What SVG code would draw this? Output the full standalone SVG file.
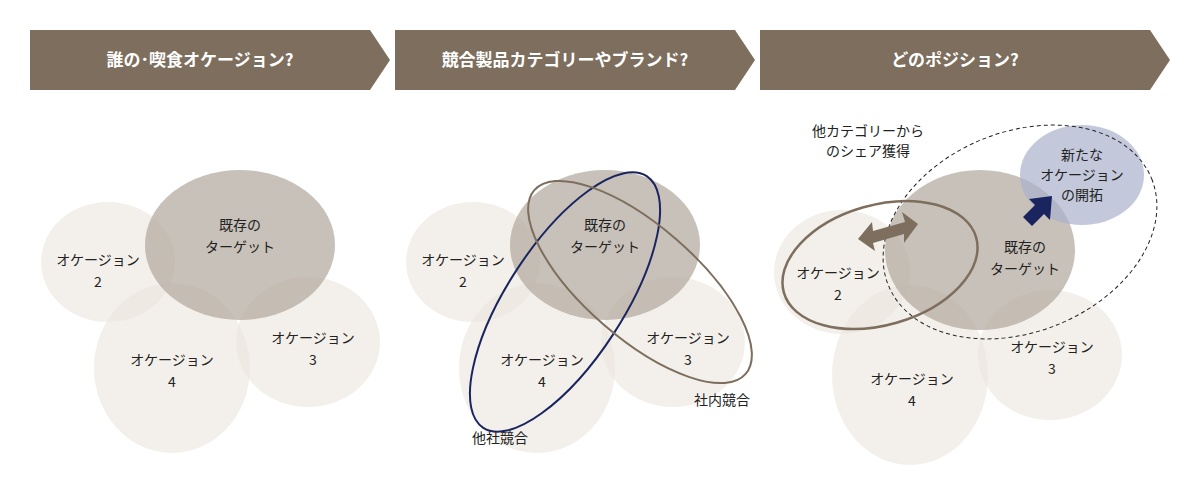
<svg xmlns="http://www.w3.org/2000/svg" width="1200" height="500" viewBox="0 0 1200 500">
<style>
text{font-family:"Noto Sans CJK JP","Noto Sans",sans-serif;font-size:14px;fill:#222;text-anchor:middle}
.hd{fill:#fff;font-size:17px;font-weight:bold}
.ban{fill:#7d6e5d}
.occ{fill:#ebe6de;fill-opacity:0.6}
.tgt{fill:#b1a79b;fill-opacity:0.7}
</style>
<g id="banners">
<polygon class="ban" points="30,30 370,30 390,60 370,90 30,90"/>
<polygon class="ban" points="395,30 735,30 755,60 735,90 395,90"/>
<polygon class="ban" points="760,30 1150,30 1170,60 1150,90 760,90"/>
<text class="hd" x="200" y="66">誰の･喫食オケージョン?</text>
<text class="hd" x="565" y="66">競合製品カテゴリーやブランド?</text>
<text class="hd" x="955" y="66">どのポジション?</text>
</g>
<g id="panel1">
<ellipse class="occ" cx="108" cy="262" rx="67" ry="60"/>
<ellipse class="occ" cx="172" cy="368" rx="78" ry="85"/>
<ellipse class="occ" cx="308" cy="342" rx="72" ry="65"/>
<ellipse class="tgt" cx="240" cy="245" rx="95" ry="75"/>
<text x="240" y="230">既存の</text><text x="240" y="252">ターゲット</text>
<text x="98" y="265">オケージョン</text><text x="98" y="287">2</text>
<text x="172" y="365">オケージョン</text><text x="172" y="387">4</text>
<text x="313" y="343">オケージョン</text><text x="313" y="365">3</text>
</g>
<g id="panel2">
<ellipse class="occ" cx="473" cy="262" rx="67" ry="60"/>
<ellipse class="occ" cx="537" cy="368" rx="78" ry="85"/>
<ellipse class="occ" cx="673" cy="342" rx="72" ry="65"/>
<ellipse class="tgt" cx="605" cy="245" rx="95" ry="75"/>
<text x="605" y="230">既存の</text><text x="605" y="252">ターゲット</text>
<text x="463" y="265">オケージョン</text><text x="463" y="287">2</text>
<text x="542" y="365">オケージョン</text><text x="542" y="387">4</text>
<text x="688" y="343">オケージョン</text><text x="688" y="365">3</text>
</g>
<g id="panel3">
<ellipse class="occ" cx="842" cy="272" rx="68" ry="62"/>
<ellipse class="occ" cx="910" cy="375" rx="78" ry="90"/>
<ellipse class="occ" cx="1050" cy="355" rx="72" ry="65"/>
<ellipse class="tgt" cx="980" cy="250" rx="95" ry="80"/>
<ellipse cx="1082" cy="175" rx="62" ry="50" fill="#a9b0cc" fill-opacity="0.7"/>
<text x="1025" y="252">既存の</text><text x="1025" y="274">ターゲット</text>
<text x="838" y="278">オケージョン</text><text x="838" y="300">2</text>
<text x="912" y="384">オケージョン</text><text x="912" y="406">4</text>
<text x="1052" y="352">オケージョン</text><text x="1052" y="374">3</text>
<text x="1082" y="160">新たな</text><text x="1082" y="180">オケージョン</text><text x="1082" y="200">の開拓</text>
<text x="868" y="136">他カテゴリーから</text><text x="868" y="156">のシェア獲得</text>
</g>
<g id="connectors" fill="none">
<ellipse cx="565" cy="302" rx="150" ry="58" transform="rotate(-57 565 302)" stroke="#1a2560" stroke-width="2"/>
<ellipse cx="640" cy="282" rx="140" ry="56" transform="rotate(41 640 282)" stroke="#7d6e5d" stroke-width="2"/>
<ellipse cx="1020" cy="232" rx="142" ry="100" transform="rotate(-22 1020 232)" stroke="#222" stroke-dasharray="4 3"/>
<ellipse cx="880" cy="265" rx="100" ry="60" transform="rotate(-16 880 265)" stroke="#7d6e5d" stroke-width="2.5"/>
<polygon fill="#7d6e5d" points="858,239 872,222 873,231 905,222 902,212 918,224 904,243 904,234 873,243 875,251"/>
<polygon fill="#1a2560" points="1052,196 1050,220 1044,214 1032,226 1023,217 1035,205 1029,199"/>
<text x="500" y="443">他社競合</text>
<text x="722" y="405">社内競合</text>
</g>
</svg>
